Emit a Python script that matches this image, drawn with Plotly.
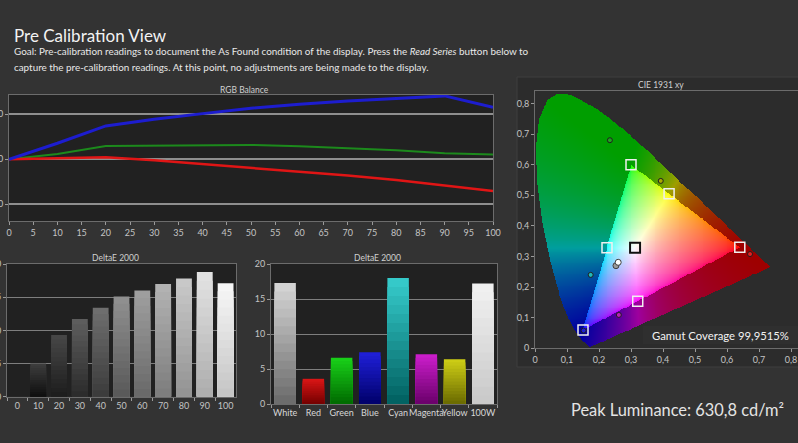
import numpy as np
import plotly.graph_objects as go
import zlib, struct, base64

W, H = 798, 443
def fx(px): return px / W
def fy(py): return 1 - py / H

# ---------------- data ----------------
rgb_levels = [0, 10, 20, 30, 40, 50, 60, 70, 80, 90, 100]
red_balance = [0, 0.7, 2.2, -1.1, -5.2, -9.3, -13.7, -18.1, -23.0, -29.3, -35.2]
green_balance = [0, 5.9, 14.8, 15.2, 16.3, 15.9, 14.4, 12.2, 10.0, 6.7, 5.2]
blue_balance = [0, 17.8, 37.0, 44.4, 50.7, 56.7, 61.0, 64.8, 67.4, 70.4, 57.8]
rgb_xticks = list(range(0, 101, 5))
rgb_yticks = [-50, 0, 50]

gray_cats = ["0", "10", "20", "30", "40", "50", "60", "70", "80", "90", "100"]
gray_de = [0, 5.0, 9.3, 11.7, 13.4, 15.1, 16.0, 17.0, 17.8, 18.8, 17.1]

color_cats = ["White", "Red", "Green", "Blue", "Cyan", "Magenta", "Yellow", "100W"]
color_de = [17.3, 3.6, 6.6, 7.4, 18.0, 7.1, 6.4, 17.2]
de_ticks = [0, 5, 10, 15, 20]

target_x = [0.640, 0.300, 0.150, 0.225, 0.321, 0.419]
target_y = [0.330, 0.600, 0.060, 0.329, 0.154, 0.505]
white_target_x = [0.3127]
white_target_y = [0.3290]
meas_x = [0.672, 0.234, 0.152, 0.174, 0.262, 0.393]
meas_y = [0.308, 0.680, 0.058, 0.240, 0.109, 0.547]
meas_white_x = [0.253, 0.260]
meas_white_y = [0.270, 0.281]
cie_ticks = [0, 0.1, 0.2, 0.3, 0.4, 0.5, 0.6, 0.7, 0.8]
cie_ticktext = ["0", "0,1", "0,2", "0,3", "0,4", "0,5", "0,6", "0,7", "0,8"]

# CIE 1931 2deg spectral locus (380-700 nm)
locus_x = [0.1741, 0.1740, 0.1738, 0.1736, 0.1733, 0.1730, 0.1726, 0.1721, 0.1714, 0.1703,
           0.1689, 0.1669, 0.1644, 0.1611, 0.1566, 0.1510, 0.1440, 0.1355, 0.1241, 0.1096,
           0.0913, 0.0687, 0.0454, 0.0235, 0.0082, 0.0039, 0.0139, 0.0389, 0.0743, 0.1142,
           0.1547, 0.1929, 0.2296, 0.2658, 0.3016, 0.3373, 0.3731, 0.4087, 0.4441, 0.4788,
           0.5125, 0.5448, 0.5752, 0.6029, 0.6270, 0.6482, 0.6658, 0.6801, 0.6915, 0.7006,
           0.7079, 0.7140, 0.7190, 0.7230, 0.7260, 0.7283, 0.7300, 0.7311, 0.7320, 0.7334,
           0.7344, 0.7347]
locus_y = [0.0050, 0.0050, 0.0049, 0.0049, 0.0048, 0.0048, 0.0048, 0.0048, 0.0051, 0.0058,
           0.0069, 0.0086, 0.0109, 0.0138, 0.0177, 0.0227, 0.0297, 0.0399, 0.0578, 0.0868,
           0.1327, 0.2007, 0.2950, 0.4127, 0.5384, 0.6548, 0.7502, 0.8120, 0.8338, 0.8262,
           0.8059, 0.7816, 0.7543, 0.7243, 0.6923, 0.6589, 0.6245, 0.5896, 0.5547, 0.5202,
           0.4866, 0.4544, 0.4242, 0.3965, 0.3725, 0.3514, 0.3340, 0.3197, 0.3083, 0.2993,
           0.2920, 0.2859, 0.2809, 0.2770, 0.2740, 0.2717, 0.2700, 0.2689, 0.2680, 0.2666,
           0.2656, 0.2653]

# ---------------- styles ----------------
FONT = "Lato"
TICKC = "#c4c4c4"
PLOTBG = "#212121"
PAPER = "#333333"

gray_top = [40, 62, 72, 95, 112, 145, 160, 180, 202, 228, 248]
gray_bot = [10, 14, 28, 42, 58, 88, 104, 124, 146, 172, 196]
col_top = [(215, 215, 215), (220, 22, 22), (25, 210, 25), (32, 32, 218), (55, 205, 205),
           (205, 30, 205), (208, 208, 22), (242, 242, 242)]
col_bot = [(105, 105, 105), (115, 0, 0), (0, 105, 0), (0, 0, 105), (0, 95, 95),
           (105, 0, 105), (105, 105, 0), (200, 200, 200)]

fig = go.Figure()

# RGB balance
for vals, c, w in [(green_balance, "#1c8a1c", 2), (red_balance, "#e01515", 2.5), (blue_balance, "#1d1dcf", 3)]:
    fig.add_trace(go.Scatter(x=rgb_levels, y=vals, mode="lines", line=dict(color=c, width=w),
                             xaxis="x", yaxis="y", showlegend=False, hoverinfo="skip"))

def mix(a, b, t):
    return "rgb(%d,%d,%d)" % tuple(int(round(a[i] + (b[i] - a[i]) * t)) for i in range(3))

def grad_bars(cats, vals, tops, bots, xa, ya, width, n=14):
    for k in range(n):
        f = (n - k) / n
        t = (n - k - 0.5) / n  # position from bottom
        cols = [mix(bt, tp, t) for tp, bt in zip(tops, bots)]
        fig.add_trace(go.Bar(x=cats, y=[v * f for v in vals], width=width,
                             marker=dict(color=cols, line=dict(width=0)),
                             xaxis=xa, yaxis=ya, showlegend=False, hoverinfo="skip"))

grad_bars(gray_cats, gray_de, [(g, g, g) for g in gray_top], [(g, g, g) for g in gray_bot], "x2", "y2", 0.76)
grad_bars(color_cats, color_de, col_top, col_bot, "x3", "y3", 0.76)

# ---------------- CIE background image ----------------
XMAX = (798 - 535) / 320.0
YMAX = (348.3 - 90.7) / 306.0
step = 0.003
xs = np.arange(0, XMAX + step, step)
ys = np.arange(0, YMAX + step, step)
GX, GY = np.meshgrid(xs, ys)

def pip(px, py, polx, poly):
    inside = np.zeros(px.shape, dtype=bool)
    n = len(polx)
    j = n - 1
    for i in range(n):
        xi, yi, xj, yj = polx[i], poly[i], polx[j], poly[j]
        cond = ((yi > py) != (yj > py)) & (px < (xj - xi) * (py - yi) / (yj - yi + 1e-12) + xi)
        inside ^= cond
        j = i
    return inside

in_locus = pip(GX, GY, locus_x, locus_y)
tri_x = [target_x[0], target_x[1], target_x[2]]
tri_y = [target_y[0], target_y[1], target_y[2]]
in_tri = pip(GX, GY, tri_x, tri_y)

Yv = np.maximum(GY, 1e-4)
Xc = GX / Yv
Zc = (1 - GX - GY) / Yv
M = np.array([[3.2406, -1.5372, -0.4986], [-0.9689, 1.8758, 0.0415], [0.0557, -0.2040, 1.0570]])
lin = np.stack([M[i, 0] * Xc + M[i, 1] * 1.0 + M[i, 2] * Zc for i in range(3)], axis=-1)
lin = np.clip(lin, 0, None)
mx = np.maximum(lin.max(axis=-1, keepdims=True), 1e-6)
lin = lin / mx
gam = np.where(lin <= 0.0031308, 12.92 * lin, 1.055 * np.power(lin, 1 / 2.4) - 0.055)
out = lin * 0.62
col = np.where(in_tri[..., None], gam, out)
rgba = np.zeros(GX.shape + (4,), dtype=np.uint8)
rgba[..., :3] = np.clip(col * 255, 0, 255).astype(np.uint8)
rgba[..., 3] = np.where(in_locus, 255, 0).astype(np.uint8)

def png_uri(arr):
    h, w = arr.shape[:2]
    raw = b"".join(b"\x00" + arr[r].tobytes() for r in range(h))
    def chunk(t, d):
        return struct.pack(">I", len(d)) + t + d + struct.pack(">I", zlib.crc32(t + d) & 0xffffffff)
    png = b"\x89PNG\r\n\x1a\n" + chunk(b"IHDR", struct.pack(">IIBBBBB", w, h, 8, 6, 0, 0, 0)) \
        + chunk(b"IDAT", zlib.compress(raw, 9)) + chunk(b"IEND", b"")
    return "data:image/png;base64," + base64.b64encode(png).decode()

fig.add_trace(go.Image(source=png_uri(rgba), x0=float(xs[0]), dx=step, y0=float(ys[0]), dy=step,
                       xaxis="x4", yaxis="y4", hoverinfo="skip"))

# measured points
meas_cols = ["#e02020", "#20a020", "#2020d0", "#20b8b8", "#b820b8", "#a8a800"]
fig.add_trace(go.Scatter(x=meas_x, y=meas_y, mode="markers",
                         marker=dict(size=5, color=meas_cols, line=dict(color="#202020", width=1)),
                         xaxis="x4", yaxis="y4", showlegend=False, hoverinfo="skip"))
fig.add_trace(go.Scatter(x=meas_white_x, y=meas_white_y, mode="markers",
                         marker=dict(size=6, color=["#9a9a9a", "#ffffff"], line=dict(color="#404040", width=1)),
                         xaxis="x4", yaxis="y4", showlegend=False, hoverinfo="skip"))
fig.add_trace(go.Scatter(x=target_x, y=target_y, mode="markers",
                         marker=dict(symbol="square-open", size=10, color="#f0f0f0", line=dict(width=1.5)),
                         xaxis="x4", yaxis="y4", showlegend=False, hoverinfo="skip"))
fig.add_trace(go.Scatter(x=white_target_x, y=white_target_y, mode="markers",
                         marker=dict(symbol="square-open", size=10, color="#111111", line=dict(width=2)),
                         xaxis="x4", yaxis="y4", showlegend=False, hoverinfo="skip"))

# ---------------- layout ----------------
tickfont = dict(family=FONT, size=9, color=TICKC)
common = dict(showline=True, linecolor="#6c6c6c", linewidth=1, mirror=True, ticks="outside",
              ticklen=3, tickcolor="#9a9a9a", tickfont=tickfont, zeroline=False, automargin=False,
              fixedrange=True, tickangle=0)

fig.update_layout(
    width=W, height=H, margin=dict(l=0, r=0, t=0, b=0), template="none",
    paper_bgcolor=PAPER, plot_bgcolor=PLOTBG, barmode="overlay", bargap=0.24,
    showlegend=False, font=dict(family=FONT, color="#dddddd"),
    xaxis=dict(domain=[fx(9), fx(493)], anchor="y", range=[0, 100], tickvals=rgb_xticks,
               showgrid=False, **common),
    yaxis=dict(domain=[fy(221), fy(95)], anchor="x", range=[-68.6, 71.4], tickvals=rgb_yticks,
               showgrid=True, gridcolor="#8e8e8e", gridwidth=1.5, **common),
    xaxis2=dict(domain=[fx(7), fx(236)], anchor="y2", type="category", range=[-0.5, 10.5],
                tickson="boundaries", showgrid=False, **common),
    yaxis2=dict(domain=[fy(396.7), fy(264)], anchor="x2", range=[0, 20], tickvals=de_ticks,
                showgrid=True, gridcolor="#7e7e7e", gridwidth=1, **common),
    xaxis3=dict(domain=[fx(271), fx(497)], anchor="y3", type="category", range=[-0.5, 7.5],
                tickson="boundaries", showgrid=False, **common),
    yaxis3=dict(domain=[fy(404), fy(264)], anchor="x3", range=[0, 20], tickvals=de_ticks,
                showgrid=True, gridcolor="#7e7e7e", gridwidth=1, **common),
    xaxis4=dict(domain=[fx(535), 1.0], anchor="y4", range=[0, XMAX], tickvals=cie_ticks,
                ticktext=cie_ticktext, showgrid=False, **common),
    yaxis4=dict(domain=[fy(348.3), fy(90.7)], anchor="x4", range=[0, YMAX], tickvals=cie_ticks,
                ticktext=cie_ticktext, showgrid=False, scaleanchor=False, **common),
)
fig.update_layout(xaxis3_tickfont=dict(family=FONT, size=9, color="#d8d8d8"))

fig.add_shape(type="rect", xref="paper", yref="paper", x0=fx(517), x1=fx(800), y0=fy(367), y1=fy(77),
              fillcolor="#2c2c2c", line=dict(color="#3e3e3e", width=1), layer="below")
fig.add_shape(type="rect", xref="paper", yref="paper", x0=fx(643), x1=fx(800), y0=fy(344), y1=fy(326),
              fillcolor="#2f2f2f", line=dict(width=0), layer="above")

ann = [
    dict(text="Pre Calibration View", x=fx(12), y=fy(35), size=17, color="#f2f2f2", xanchor="left"),
    dict(text="Goal: Pre-calibration readings to document the As Found condition of the display. Press the <i>Read Series</i> button below to",
         x=fx(12), y=fy(51), size=9.9, color="#e8e8e8", xanchor="left"),
    dict(text="capture the pre-calibration readings. At this point, no adjustments are being made to the display.",
         x=fx(12), y=fy(66.5), size=9.9, color="#e8e8e8", xanchor="left"),
    dict(text="RGB Balance", x=fx(244), y=fy(90), size=8.5, color="#d0d0d0", xanchor="center"),
    dict(text="DeltaE 2000", x=fx(115.5), y=fy(258), size=8.5, color="#d0d0d0", xanchor="center"),
    dict(text="DeltaE 2000", x=fx(377.5), y=fy(257.5), size=8.5, color="#d0d0d0", xanchor="center"),
    dict(text="CIE 1931 xy", x=fx(661), y=fy(85), size=8.5, color="#d0d0d0", xanchor="center"),
    dict(text="Gamut Coverage 99,9515%", x=fx(720), y=fy(335), size=11.3, color="#f2f2f2", xanchor="center"),
    dict(text="Peak Luminance: 630,8 cd/m²", x=fx(786), y=fy(409), size=16.4, color="#e4e4e4", xanchor="right"),
]
for a in ann:
    fig.add_annotation(text=a["text"], x=a["x"], y=a["y"], xref="paper", yref="paper",
                       xanchor=a["xanchor"], yanchor="middle", showarrow=False,
                       font=dict(family=FONT, size=a["size"], color=a["color"]))

fig.write_html("out.html")
